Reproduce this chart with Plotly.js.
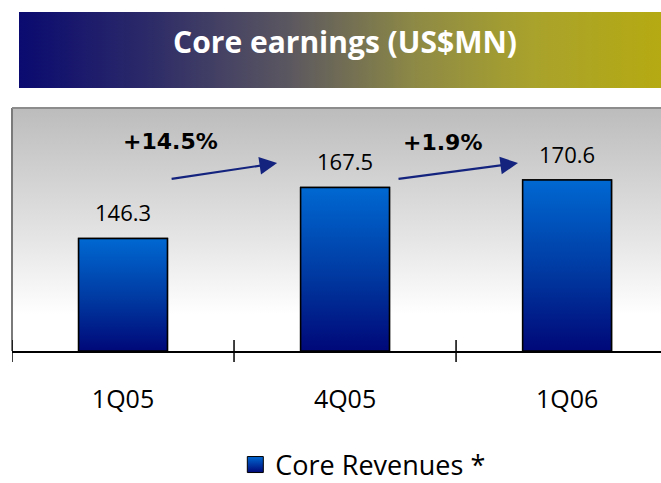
<!DOCTYPE html>
<html>
<head>
<meta charset="utf-8">
<script src="https://cdn.plot.ly/plotly-3.0.1.min.js"></script>
<style>html,body{margin:0;padding:0;background:#fff;}#chart{width:661px;height:483px;}</style>
</head>
<body>
<div id="chart"></div>
<script>
// ---- data ----
const categories = ['1Q05', '4Q05', '1Q06'];
const revenues = [146.3, 167.5, 170.6];
const growthLabels = ['+14.5%', '+1.9%'];
const seriesName = 'Core Revenues *';
const chartTitle = 'Core earnings (US$MN)';

// ---- styling ----
const FONT = '"Open Sans", "Noto Sans", "DejaVu Sans", sans-serif';
const BOLDFONT = '"DejaVu Sans", "Open Sans", sans-serif';
const yRange = [99.5, 200.5];
const barWidth = 0.4;
const xIdx = categories.map((c, i) => i);
const barGradient = [[0, '#000878'], [0.45, '#0038a0'], [1, '#0068d2']];

function svgUri(svg) { return 'data:image/svg+xml;charset=utf-8,' + encodeURIComponent(svg); }
const bgSvg = "<svg xmlns='http://www.w3.org/2000/svg' width='10' height='100' viewBox='0 0 10 100' preserveAspectRatio='none'><defs><linearGradient id='g' x1='0' y1='0' x2='0' y2='1'><stop offset='0' stop-color='#bcbcbc'/><stop offset='0.55' stop-color='#e6e6e6'/><stop offset='0.85' stop-color='#ffffff'/><stop offset='1' stop-color='#ffffff'/></linearGradient></defs><rect width='10' height='100' fill='url(#g)'/></svg>";
const bannerSvg = "<svg xmlns='http://www.w3.org/2000/svg' width='100' height='10' viewBox='0 0 100 10' preserveAspectRatio='none'><defs><linearGradient id='b' x1='0' y1='0' x2='1' y2='0'><stop offset='0' stop-color='#0a0a70'/><stop offset='0.2' stop-color='#2c2a68'/><stop offset='0.42' stop-color='#5b5760'/><stop offset='0.62' stop-color='#8e8a45'/><stop offset='0.8' stop-color='#a9a22c'/><stop offset='1' stop-color='#b5aa12'/></linearGradient></defs><rect width='100' height='10' fill='url(#b)'/></svg>";

const traces = [];
traces.push({
  type: 'bar', x: xIdx, y: revenues, width: barWidth, name: seriesName,
  marker: { color: '#0a4fb0', line: { color: '#000000', width: 1.5 } },
  hoverinfo: 'skip', showlegend: false
});
revenues.forEach((v, i) => {
  const x0 = i - barWidth / 2, x1 = i + barWidth / 2, b = yRange[0];
  traces.push({
    type: 'scatter', mode: 'lines', showlegend: false, hoverinfo: 'skip',
    x: [x0, x1, x1, x0, x0], y: [b, b, v, v, b],
    fill: 'toself',
    fillgradient: { type: 'vertical', colorscale: barGradient },
    line: { color: '#000000', width: 1.5 }
  });
});
// legend entry for the series (square swatch with gradient)
traces.push({
  type: 'scatter', mode: 'markers', x: [null], y: [null], name: seriesName, showlegend: true, hoverinfo: 'skip',
  marker: { symbol: 'square', size: 16, color: '#0068d2', gradient: { type: 'vertical', color: '#000878' }, line: { color: '#000', width: 1 } }
});

const annotations = [];
revenues.forEach((v, i) => {
  annotations.push({
    x: i, y: v, xref: 'x', yref: 'y', text: v.toFixed(1), showarrow: false,
    yanchor: 'bottom', yshift: 9, font: { family: FONT, size: 22, color: '#000' }
  });
});
const growthPos = [{ x: 0.212, y: 186.4 }, { x: 1.437, y: 186.0 }];
const arrowHeads = [{ x: 0.694, y: 177.6, ax: -107, ay: 16 }, { x: 1.779, y: 177.6, ax: -121, ay: 16 }];
growthLabels.forEach((g, i) => {
  annotations.push({
    x: growthPos[i].x, y: growthPos[i].y, xref: 'x', yref: 'y', text: '<b>' + g + '</b>',
    showarrow: false, font: { family: BOLDFONT, size: 22, color: '#000' }
  });
  annotations.push({
    x: arrowHeads[i].x, y: arrowHeads[i].y, xref: 'x', yref: 'y', text: '',
    showarrow: true, ax: arrowHeads[i].ax, ay: arrowHeads[i].ay, axref: 'pixel', ayref: 'pixel',
    arrowhead: 2, arrowsize: 1.6, arrowwidth: 2.2, arrowcolor: '#14247e', standoff: 0, startstandoff: 0
  });
});

const shapes = [
  { type: 'line', xref: 'paper', yref: 'paper', x0: 0, x1: 0, y0: 0, y1: 1, line: { color: '#7a7a7a', width: 2 }, layer: 'above' },
  { type: 'line', xref: 'paper', yref: 'paper', x0: 0, x1: 1, y0: 1, y1: 1, line: { color: '#8c8c8c', width: 2 }, layer: 'above' }
];
[-0.5, 0.5, 1.5].forEach(xb => {
  shapes.push({ type: 'line', xref: 'x', yref: 'paper', x0: xb, x1: xb, y0: -0.045, y1: 0.045, line: { color: '#000', width: 1.5 }, layer: 'above' });
});

const layout = {
  width: 661, height: 483,
  margin: { l: 12, r: 0, t: 108, b: 132, pad: 0, autoexpand: false },
  paper_bgcolor: '#ffffff', plot_bgcolor: 'rgba(0,0,0,0)',
  title: {
    text: '<b>' + chartTitle + '</b>', font: { family: FONT, size: 30, color: '#ffffff' },
    xref: 'container', yref: 'container', x: 0.522, y: 0.912, xanchor: 'center', yanchor: 'middle'
  },
  xaxis: {
    range: [-0.5, 2.423], tickmode: 'array', tickvals: xIdx, ticktext: categories,
    showgrid: false, zeroline: false, showline: true, linecolor: '#000', linewidth: 2,
    ticks: '', ticklabelstandoff: 25, tickfont: { family: FONT, size: 25, color: '#000' }, fixedrange: true, automargin: false
  },
  yaxis: {
    range: yRange, showticklabels: false, showgrid: false, zeroline: false, showline: false, ticks: '', fixedrange: true, automargin: false
  },
  showlegend: true,
  legend: {
    orientation: 'h', xref: 'container', yref: 'container', x: 0.356, y: 0.088, xanchor: 'left', yanchor: 'top',
    font: { family: FONT, size: 27, color: '#000' }, bgcolor: 'rgba(0,0,0,0)', itemwidth: 30
  },
  images: [
    { source: svgUri(bgSvg), xref: 'paper', yref: 'paper', x: 0, y: 1, sizex: 1, sizey: 1, sizing: 'stretch', xanchor: 'left', yanchor: 'top', layer: 'below' },
    { source: svgUri(bannerSvg), xref: 'paper', yref: 'paper', x: 7 / 649, y: (351 - 12) / 243, sizex: 642 / 649, sizey: 76 / 243, sizing: 'stretch', xanchor: 'left', yanchor: 'top', layer: 'below' }
  ],
  shapes: shapes,
  annotations: annotations
};

Plotly.newPlot('chart', traces, layout, { displayModeBar: false, staticPlot: true });
</script>
</body>
</html>
